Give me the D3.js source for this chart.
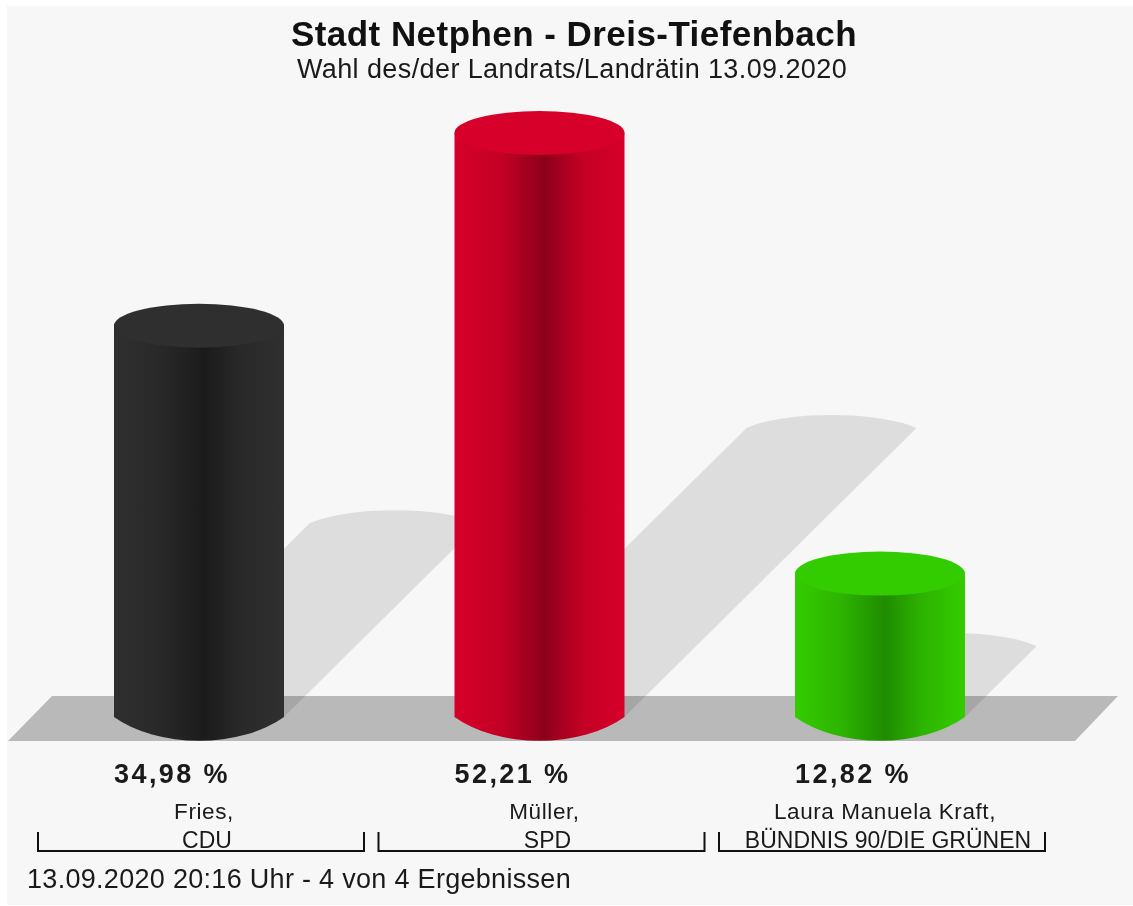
<!DOCTYPE html>
<html>
<head>
<meta charset="utf-8">
<script src="https://d3js.org/d3.v7.min.js"></script>
<style>
  html, body { margin: 0; padding: 0; background: #fff; }
  text { font-family: "Liberation Sans", Arial, sans-serif; }
  svg { filter: blur(0.5px); }
</style>
</head>
<body>
<div id="chart"></div>
<script>
// values
const names = ["Fries,", "Müller,", "Laura Manuela Kraft,"];
const parties = ["CDU", "SPD", "BÜNDNIS 90/DIE GRÜNEN"];
const values = [34.98, 52.21, 12.82];
const valueLabels = ["34,98 %", "52,21 %", "12,82 %"];
const edgeColors = ["#2f2f2f", "#d6002a", "#33cc00"];
const midColors = ["#1b1b1b", "#8c001a", "#1f8c00"];
const shoulderColors = ["#292929", "#c40025", "#2db400"];

const title = "Stadt Netphen - Dreis-Tiefenbach";
const subtitle = "Wahl des/der Landrats/Landrätin 13.09.2020";
const footer = "13.09.2020 20:16 Uhr - 4 von 4 Ergebnissen";

const width = 1133, height = 906;
const rx = 85, ry = 22;

const svg = d3.select("#chart")
  .append("svg")
    .attr("width", width)
    .attr("height", height)
    .style("display", "block");

const x = d3.scalePoint().domain(d3.range(values.length)).range([199, 880]);
const y = d3.scaleLinear().domain([0, d3.max(values)]).range([717, 133]);

// panel and floor
svg.append("rect")
  .attr("x", 7).attr("y", 6)
  .attr("width", width - 7).attr("height", height - 7)
  .attr("fill", "#f7f7f7");

svg.append("path")
  .attr("d", "M8,741 L52,696 L1118,696 L1075,741 Z")
  .attr("fill", "#b9b9b9");

// cylinder gradients
const defs = svg.append("defs");
values.forEach(function(v, i) {
  const g = defs.append("linearGradient")
    .attr("id", "side" + i);
  [[0, edgeColors[i]], [0.27, shoulderColors[i]], [0.53, midColors[i]], [0.75, shoulderColors[i]], [1, edgeColors[i]]]
    .forEach(function(s) {
      g.append("stop").attr("offset", s[0]).attr("stop-color", s[1]);
    });
});

// shadows fall back up to the right, half the height of the bar
svg.selectAll(".shadow")
  .data(values)
  .join("path")
    .attr("class", "shadow")
    .attr("fill", "#000")
    .attr("fill-opacity", 0.1)
    .attr("d", function(d, i) {
      const off = (y(0) - y(d)) / 2;
      const l = x(i) - rx, r = x(i) + rx;
      const top = y(0) - off * 0.99;
      return `M${l},${y(0)} L${l + off},${top}` +
        ` A${rx * 1.15},${ry * 1.17} 0 0 1 ${r + off},${top}` +
        ` L${r},${y(0)} Z`;
    });

// cylinder bodies
svg.selectAll(".side")
  .data(values)
  .join("path")
    .attr("class", "side")
    .attr("fill", function(d, i) { return `url(#side${i})`; })
    .attr("d", function(d, i) {
      const l = x(i) - rx, r = x(i) + rx;
      return `M${l},${y(d)} L${l},${y(0)} A${rx * 1.3},${ry * 3} 0 0 0 ${r},${y(0)}` +
        ` L${r},${y(d)} Z`;
    });

// cylinder tops
svg.selectAll(".top")
  .data(values)
  .join("ellipse")
    .attr("class", "top")
    .attr("cx", function(d, i) { return x(i); })
    .attr("cy", function(d) { return y(d); })
    .attr("rx", rx)
    .attr("ry", ry)
    .attr("fill", function(d, i) { return edgeColors[i]; });

// titles
svg.append("text")
  .attr("x", 574).attr("y", 46)
  .attr("text-anchor", "middle")
  .attr("font-size", 35)
  .attr("letter-spacing", 0.45)
  .attr("font-weight", "bold")
  .attr("fill", "#111")
  .text(title);

svg.append("text")
  .attr("x", 572).attr("y", 78)
  .attr("text-anchor", "middle")
  .attr("font-size", 27)
  .attr("letter-spacing", 0.4)
  .attr("fill", "#1a1a1a")
  .text(subtitle);

// value labels
svg.selectAll(".value")
  .data(valueLabels)
  .join("text")
    .attr("class", "value")
    .attr("x", function(d, i) { return x(i) - 27; })
    .attr("y", 783)
    .attr("font-size", 27)
    .attr("font-weight", "bold")
    .attr("letter-spacing", 2.4)
    .attr("fill", "#1a1a1a")
    .attr("text-anchor", "middle")
    .text(function(d) { return d; });

// candidate names and parties
svg.selectAll(".name")
  .data(names)
  .join("text")
    .attr("class", "name")
    .attr("x", function(d, i) { return x(i) + 5; })
    .attr("y", 819)
    .attr("text-anchor", "middle")
    .attr("font-size", 22.5)
    .attr("letter-spacing", 0.6)
    .attr("fill", "#1a1a1a")
    .text(function(d) { return d; });

svg.selectAll(".party")
  .data(parties)
  .join("text")
    .attr("class", "party")
    .attr("x", function(d, i) { return x(i) + 8; })
    .attr("y", 848)
    .attr("text-anchor", "middle")
    .attr("font-size", 23)
    .attr("fill", "#1a1a1a")
    .text(function(d) { return d; });

// brackets under each candidate
svg.selectAll(".bracket")
  .data(values)
  .join("path")
    .attr("class", "bracket")
    .attr("fill", "none")
    .attr("stroke", "#111")
    .attr("stroke-width", 2)
    .attr("d", function(d, i) {
      const c = x(i) + 2;
      return `M${c - 163},832 V851 H${c + 163} V832`;
    });

svg.append("text")
  .attr("x", 27).attr("y", 888)
  .attr("font-size", 27)
  .attr("letter-spacing", 0.3)
  .attr("fill", "#1a1a1a")
  .text(footer);
</script>
</body>
</html>
